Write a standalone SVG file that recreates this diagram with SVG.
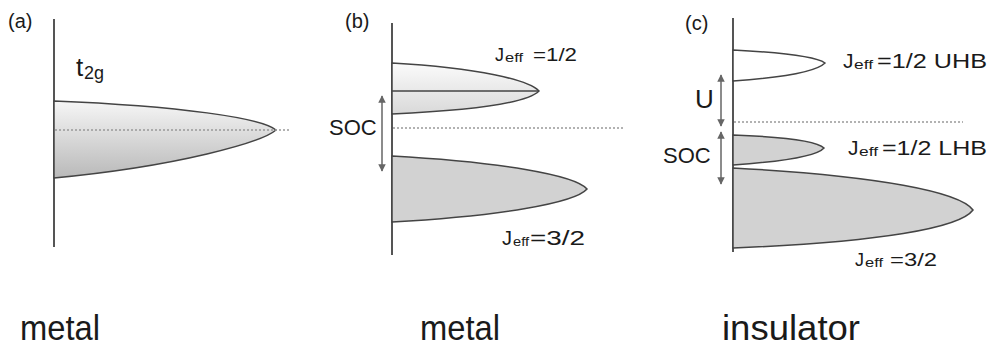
<svg xmlns="http://www.w3.org/2000/svg" width="990" height="350" viewBox="0 0 990 350">
<defs>
<linearGradient id="gA" x1="0" y1="0" x2="0" y2="1"><stop offset="0" stop-color="#f6f6f6"/><stop offset="1" stop-color="#b9b9b9"/></linearGradient>
<linearGradient id="gB" x1="0" y1="0" x2="0" y2="1"><stop offset="0" stop-color="#fbfbfb"/><stop offset="1" stop-color="#d9d9d9"/></linearGradient>
<marker id="ah" viewBox="0 0 10 10" refX="9" refY="5" markerWidth="5" markerHeight="5" orient="auto-start-reverse"><path d="M0,0 L10,5 L0,10 Z" fill="#666"/></marker>
</defs>
<style>
.axis{stroke:#555;stroke-width:2;fill:none}
.band{stroke:#444;stroke-width:1.5}
.dot{stroke:#999;stroke-width:1.5;stroke-dasharray:2 2;fill:none}
.arr{stroke:#666;stroke-width:1.5;fill:none;marker-start:url(#ah);marker-end:url(#ah)}
text{font-family:"Liberation Sans",Arial,sans-serif;fill:#1a1a1a}
.pl{font-size:20px}
.big{font-size:35px}
.lab{font-size:22px}
</style>
<g id="panel-a">
<line class="axis" x1="54" y1="19" x2="54" y2="247"/>
<path class="band" fill="url(#gA)" d="M54,101 C180,106 262,118 276,130 C262,142 180,166 54,178 Z"/>
<line class="dot" x1="55" y1="130" x2="290" y2="130"/>
<text class="pl" x="8" y="28">(a)</text>
<text x="76" y="76" font-size="26">t</text><text x="84" y="79" font-size="18">2g</text>
</g>
<g id="panel-b">
<line class="axis" x1="392" y1="23" x2="392" y2="255"/>
<path class="band" fill="url(#gB)" d="M392,63 C480,68 528,80 539,91 C528,102 480,110 392,114 Z"/>
<line class="band" x1="392" y1="91" x2="539" y2="91"/>
<path class="band" fill="#d2d2d2" d="M392,156 C500,162 575,175 587,189 C575,203 500,216 392,222 Z"/>
<line class="dot" x1="393" y1="128" x2="623" y2="128"/>
<text class="pl" x="345" y="28">(b)</text>
<text x="495" y="61" font-size="18">J</text><text x="505" y="62" font-size="12" textLength="18" lengthAdjust="spacingAndGlyphs">eff</text><text x="533" y="61" font-size="18" textLength="44" lengthAdjust="spacingAndGlyphs">=1/2</text>
<text x="502" y="245" font-size="20">J</text><text x="513" y="246" font-size="12" textLength="16" lengthAdjust="spacingAndGlyphs">eff</text><text x="530" y="245" font-size="20" textLength="55" lengthAdjust="spacingAndGlyphs">=3/2</text>
</g>
<g id="panel-c">
<line class="axis" x1="733" y1="18" x2="733" y2="252"/>
<path class="band" fill="#ffffff" d="M733,50 C790,53 818,58 825,63 C818,70 790,77 733,81 Z"/>
<path class="band" fill="#d2d2d2" d="M733,135 C790,137 818,142 824,148 C818,155 790,161 733,165 Z"/>
<path class="band" fill="#d2d2d2" d="M733,168 C880,176 960,192 973,210 C960,228 880,242 733,248 Z"/>
<line class="dot" x1="734" y1="122" x2="963" y2="122"/>
<text class="pl" x="685" y="30">(c)</text>
<text x="843" y="68" font-size="21">J</text><text x="854" y="69" font-size="13" textLength="19" lengthAdjust="spacingAndGlyphs">eff</text><text x="877" y="68" font-size="21" textLength="110" lengthAdjust="spacingAndGlyphs">=1/2 UHB</text>
<text x="848" y="155" font-size="21">J</text><text x="859" y="156" font-size="13" textLength="19" lengthAdjust="spacingAndGlyphs">eff</text><text x="882" y="155" font-size="21" textLength="105" lengthAdjust="spacingAndGlyphs">=1/2 LHB</text>
<text x="855" y="266" font-size="18">J</text><text x="865" y="267" font-size="12" textLength="18" lengthAdjust="spacingAndGlyphs">eff</text><text x="890" y="266" font-size="18" textLength="47" lengthAdjust="spacingAndGlyphs">=3/2</text>
</g>
<g id="connectors">
<line class="arr" x1="382" y1="96" x2="382" y2="171"/>
<line class="arr" x1="721" y1="75" x2="721" y2="126"/>
<line class="arr" x1="721" y1="132" x2="721" y2="184"/>
</g>
<g id="labels">
<text class="lab" x="329" y="135">SOC</text>
<text class="lab" x="663" y="163">SOC</text>
<text x="695" y="108" font-size="26">U</text>
<text class="big" x="20" y="340" textLength="80" lengthAdjust="spacingAndGlyphs">metal</text>
<text class="big" x="420" y="340" textLength="80" lengthAdjust="spacingAndGlyphs">metal</text>
<text class="big" x="722" y="340" textLength="138" lengthAdjust="spacingAndGlyphs">insulator</text>
</g>
</svg>
